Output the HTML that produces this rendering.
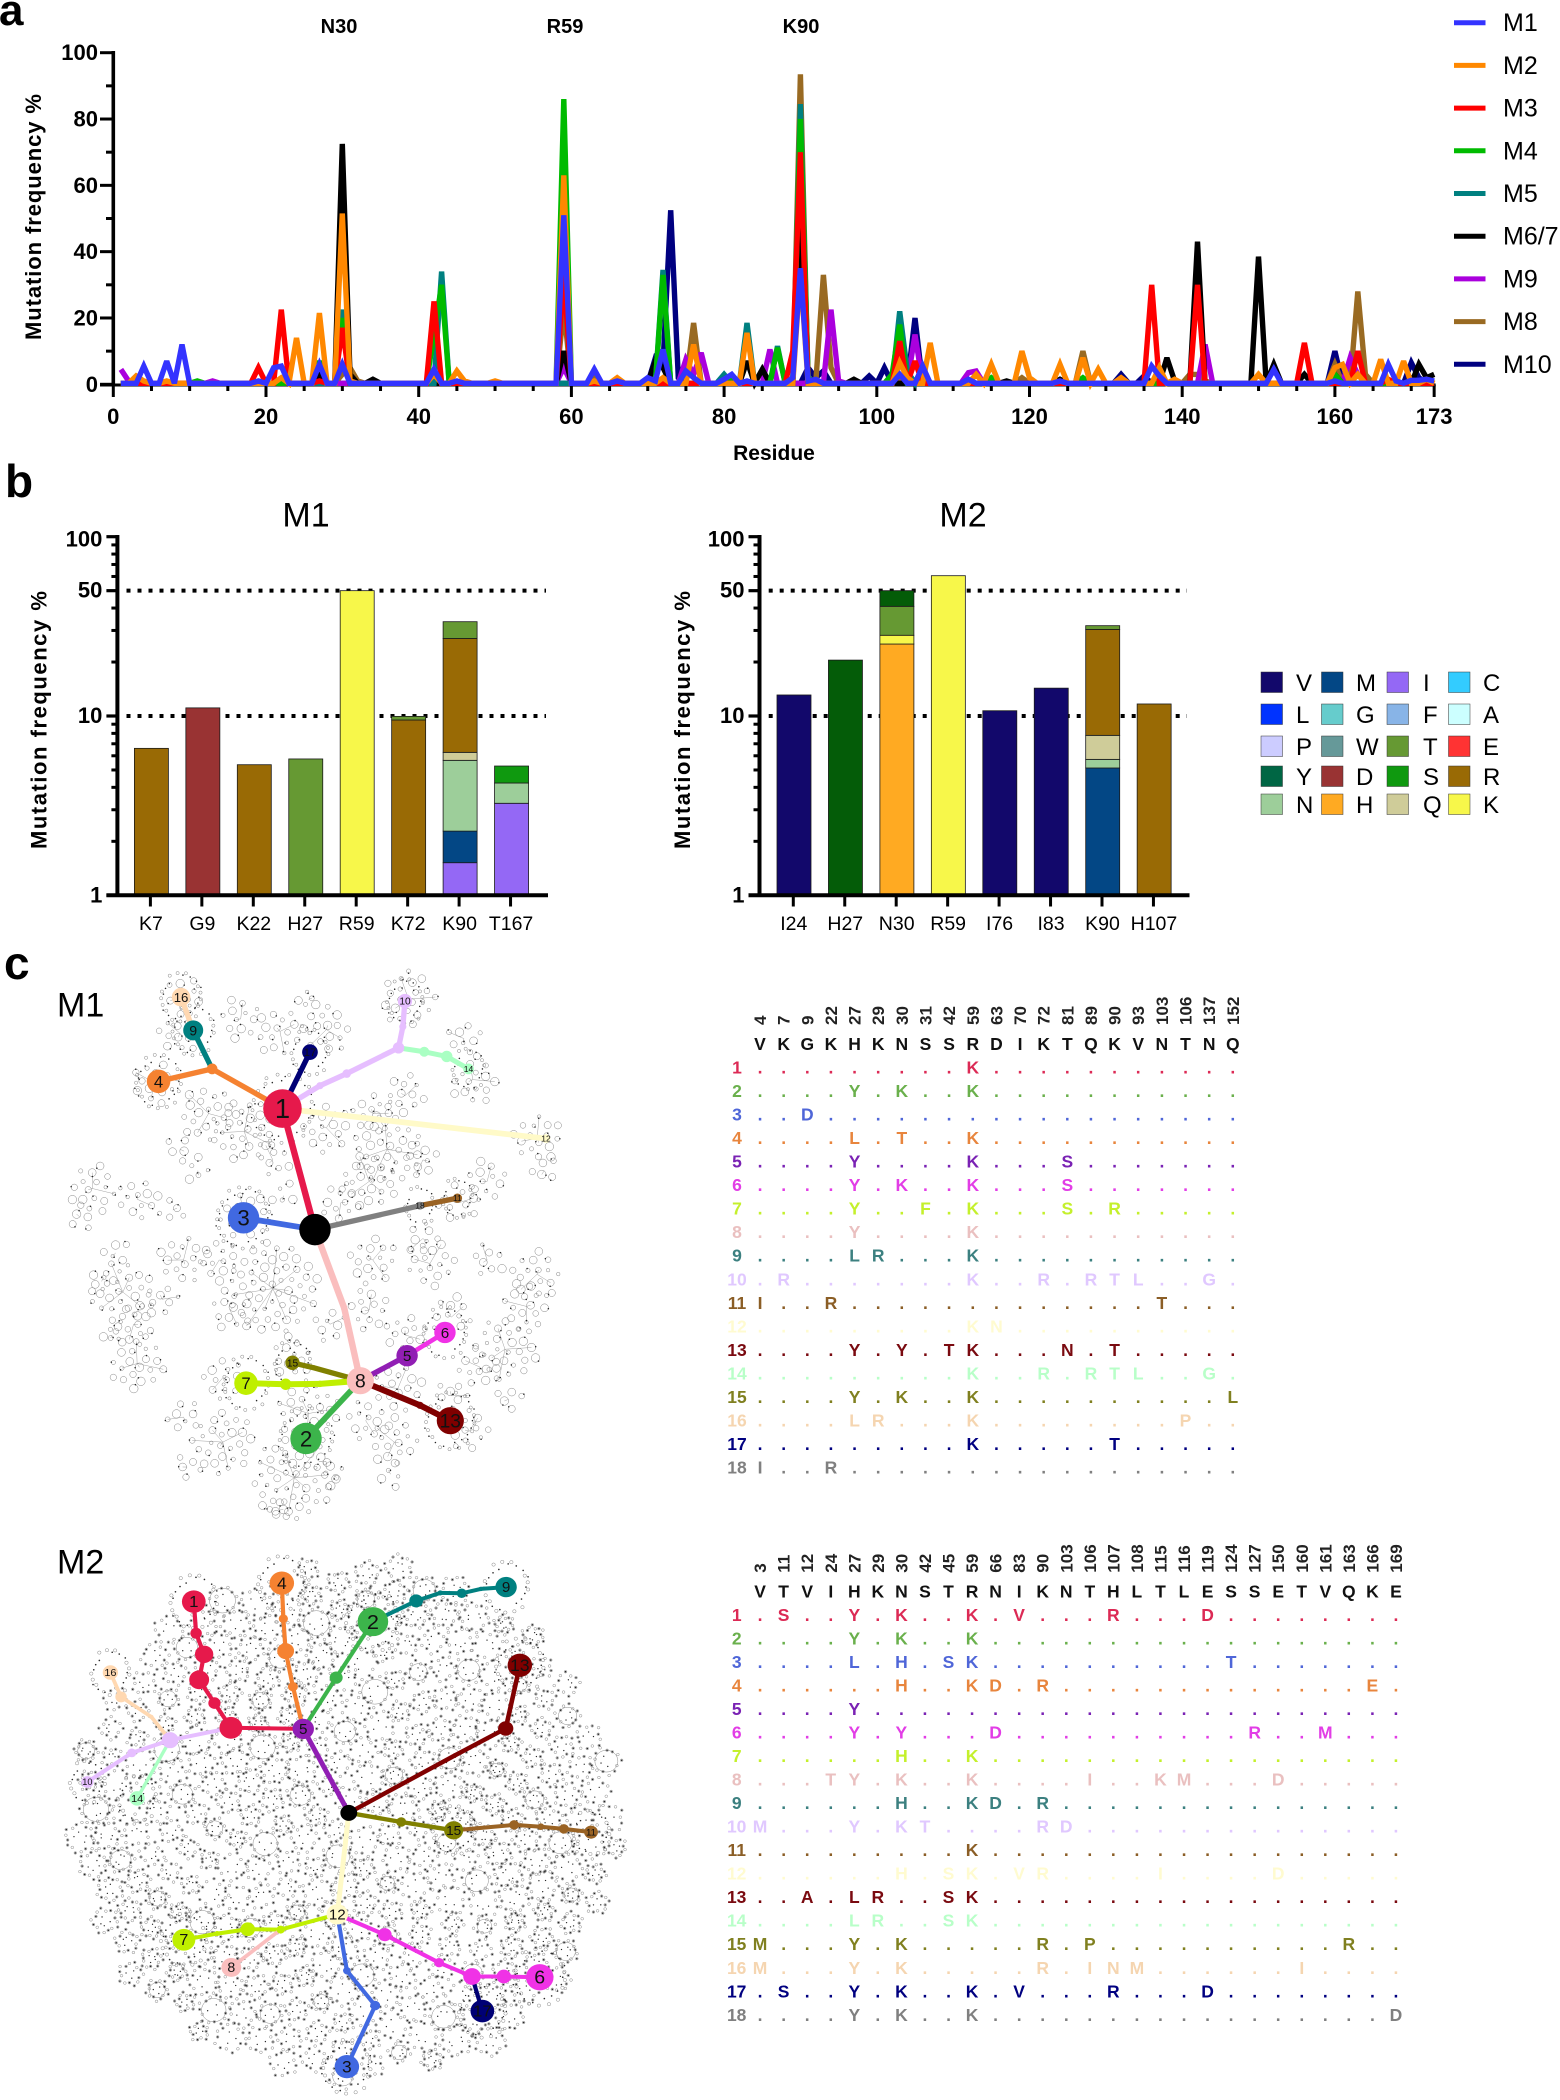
<!DOCTYPE html>
<html lang="en">
<head>
<meta charset="utf-8">
<title>Mutation frequency figure</title>
<style>
html,body{margin:0;padding:0;background:#fff}
svg{display:block}
text{font-family:"Liberation Sans",Arial,sans-serif}
</style>
</head>
<body>
<svg id="fig" xmlns="http://www.w3.org/2000/svg" width="1560" height="2100" viewBox="0 0 1560 2100">
<rect width="1560" height="2100" fill="#fff"/>
<text x="-1" y="25" font-size="44" font-weight="bold">a</text>
<text x="5" y="497" font-size="46" font-weight="bold">b</text>
<text x="4" y="979" font-size="46" font-weight="bold">c</text>
<text x="339" y="33" font-size="20" font-weight="bold" text-anchor="middle">N30</text>
<text x="565" y="33" font-size="20" font-weight="bold" text-anchor="middle">R59</text>
<text x="801" y="33" font-size="20" font-weight="bold" text-anchor="middle">K90</text>
<text transform="translate(41,217) rotate(-90)" font-size="22" font-weight="bold" text-anchor="middle" textLength="246">Mutation frequency %</text>
<text x="774" y="460" font-size="21" font-weight="bold" text-anchor="middle">Residue</text>
<text x="306" y="526.5" font-size="34" text-anchor="middle">M1</text>
<text x="963" y="526.5" font-size="34" text-anchor="middle">M2</text>
<text transform="translate(46.5,720) rotate(-90)" font-size="22" font-weight="bold" text-anchor="middle" textLength="258">Mutation frequency %</text>
<text transform="translate(690,720) rotate(-90)" font-size="22" font-weight="bold" text-anchor="middle" textLength="258">Mutation frequency %</text>
<text x="57" y="1016.5" font-size="34">M1</text>
<text x="57" y="1573.5" font-size="34">M2</text>
<g id="lineChart"></g>
<g id="barM1"></g>
<g id="barM2"></g>
<g id="aaLegend"></g>
<g id="netM1" transform="translate(30,960) scale(0.3571)"></g>
<g id="netM2" transform="translate(30,1530) scale(0.3827,0.3636)"></g>
<g id="tableM1"></g>
<g id="tableM2"></g>
</svg>
<script>
/* ---------- panel a data: [residue, frequency %] ---------- */
const baselineFrequency = 0.3;
const lineXTicks = [0,20,40,60,80,100,120,140,160,173];
const lineXMinorTicks = [5,10,15,25,30,35,45,50,55,65,70,75,85,90,95,105,110,115,125,130,135,145,150,155,165,170];
const lineYTicks = [0,20,40,60,80,100];
const lineYMinorTicks = [10,30,50,70,90];
const seriesNames = ["M10","M8","M9","M6/7","M5","M4","M3","M2","M1"];
const seriesColors = ["#000080","#996a22","#aa00dd","#000000","#008080","#00bb00","#ff0000","#ff8800","#3333ff"];
const legendOrder = ["M1","M2","M3","M4","M5","M6/7","M9","M8","M10"];
const seriesM10 = [[71,8],[72,6],[73,52.5],[74,2],[91,5],[92,2],[93,4],[99,2.5],[101,5],[105,20],[132,3],[135,2.5],[160,10],[170,6.5],[171,2]];
const seriesM8 = [[30,3],[31,5],[32,1],[59,23],[63,2],[76,18.5],[90,93.5],[93,33],[94,5],[103,2],[119,2],[127,10],[141,3],[142,3],[143,1],[160,6],[163,28],[164,3]];
const seriesM9 = [[1,4.5],[2,1],[13,1],[59,5],[75,7.5],[76,3],[77,9.5],[86,10.5],[94,22.5],[95,1],[105,15],[112,3.5],[113,4],[143,12],[162,8],[163,3]];
const seriesM67 = [[27,3],[30,72.5],[31,3],[34,1.5],[59,10],[71,7],[72,5],[83,7],[85,4.5],[90,50],[97,1.5],[117,1],[124,1.5],[127,1.5],[138,8],[139,1],[142,43],[150,38.5],[152,6],[156,3],[160,3],[171,6],[172,2],[173,3]];
const seriesM5 = [[30,22.5],[43,34],[72,34.5],[80,3],[83,18.5],[87,11.5],[90,84.5],[91,2],[103,22],[104,4],[106,5]];
const seriesM4 = [[11,1],[27,7],[30,20],[42,15],[43,30],[59,86],[72,33],[81,2.5],[87,11],[90,80],[91,2],[102,3],[103,18],[106,5],[115,2],[127,2],[160,3]];
const seriesM3 = [[19,5],[22,22.5],[27,1],[30,17],[42,25],[59,33],[89,10],[90,70],[103,13],[105,7],[136,30],[142,30],[156,12.5],[163,10],[167,1.5]];
const seriesM2 = [[3,2.5],[4,1],[7,1],[22,2],[24,14],[27,21.5],[30,51.5],[31,1],[42,3],[45,4],[46,1],[50,1],[59,63],[63,1],[66,2],[72,2],[76,12],[83,15.5],[90,34],[103,6.5],[104,2],[107,12.5],[113,3],[115,6],[119,10],[120,2],[124,6],[127,8],[129,4.5],[132,2],[137,5],[139,1.5],[150,3],[160,5],[161,6],[163,3],[166,7.5],[169,7],[172,1.5]];
const seriesM1 = [[4,5.5],[7,7],[9,12],[19,1],[21,5],[22,5.5],[27,6],[30,6],[42,4.5],[45,1],[59,51],[63,4.5],[66,1],[70,2],[71,1],[72,10.5],[75,4],[76,2],[80,1.5],[81,3],[83,1],[89,2],[90,35],[91,1],[92,1.5],[103,3],[106,5.5],[112,1.5],[124,1],[136,5.5],[137,2.5],[152,4.5],[160,1],[167,6],[168,1],[170,1.2],[171,1.2],[172,1.5],[173,1]];
const seriesData = [seriesM10,seriesM8,seriesM9,seriesM67,seriesM5,seriesM4,seriesM3,seriesM2,seriesM1];

/* ---------- panel b data ---------- */
const m1Categories = ["K7","G9","K22","H27","R59","K72","K90","T167"];
const m1Residues = [["R"],["D"],["R"],["T"],["K"],["R","T"],["I","M","N","Q","R","T"],["I","N","S"]];
const m1Values = [[6.6],[11.1],[5.35],[5.76],[50],[9.5,0.45],[1.52,0.76,3.38,0.61,20.8,6.5],[3.26,0.97,1.03]];
const m2Categories = ["I24","H27","N30","R59","I76","I83","K90","H107"];
const m2Residues = [["V"],["y"],["H","K","T","y"],["K"],["V"],["V"],["M","N","Q","R","T"],["R"]];
const m2Values = [[13.1],[20.5],[25.2,3,12.7,9.1],[60.6],[10.7],[14.3],[5.13,0.6,2.07,22.6,1.5],[11.67]];
const logMajorTicks = [1,10,50,100];
const logMinorTicks = [2,3,4,5,6,7,8,9,20,30,40,60,70,80,90];
const referenceLines = [10,50];
const residueColors = {V:"#12086b",M:"#034785",I:"#9468f5",C:"#33ccff",L:"#0033ff",G:"#66cccc",F:"#88b4e7",A:"#ccffff",P:"#ccccff",W:"#669999",T:"#669933",E:"#ff3333",Y:"#006644",y:"#045c08",D:"#993333",S:"#0f990f",R:"#996a05",N:"#9dce9a",H:"#ffaa22",Q:"#cfcc99",K:"#f7f74a"};
const legendRows = [["V","M","I","C"],["L","G","F","A"],["P","W","T","E"],["Y","D","S","R"],["N","H","Q","K"]];

/* ---------- panel c palette and tables ---------- */
const nodeColors = {1:"#e6194b",2:"#3cb44b",3:"#4169e1",4:"#f58231",5:"#911eb4",6:"#f032e6",7:"#bfef00",8:"#fabebe",9:"#008080",10:"#e6beff",11:"#9a6324",12:"#fffac8",13:"#800000",14:"#aaffc3",15:"#808000",16:"#ffd8b1",17:"#000075",18:"#808080",0:"#000000"};
const tableColors = ["#dc2a55","#6ab04c","#4f66d8","#e8853d","#7a22b4","#e23de6","#c4f02c","#eac0c0","#3c8080","#e0c8ff","#8b5e26","#fffbd0","#7a0a10","#b8ffc8","#808020","#f5d5b0","#000080","#808080"];
const m1TablePositions = ["4","7","9","22","27","29","30","31","42","59","63","70","72","81","89","90","93","103","106","137","152"];
const m1TableWildtype = "VKGKHKNSSRDIKTQKVNTNQ";
const m1TableRows = [
".........K...........",
"....Y.K..K...........",
"..D..................",
"....L.T..K...........",
"....Y....K...S.......",
"....Y.K..K...S.......",
"....Y..F.K...S.R.....",
"....Y....K...........",
"....LR...K...........",
".R.......K..R.RTL..G.",
"I..R.............T...",
".........KN..........",
"....Y.Y.TK...N.T.....",
".........K..R.RTL..G.",
"....Y.K..K..........L",
"....LR...K........P..",
".........K.....T.....",
"I..R................."];
const m2TablePositions = ["3","11","12","24","27","29","30","42","45","59","66","83","90","103","106","107","108","115","116","119","124","127","150","160","161","163","166","169"];
const m2TableWildtype = "VTVIHKNSTRNIKNTHLTLESSETVQKE";
const m2TableRows = [
".S..Y.K..K.V...R...D........",
"....Y.K..K..................",
"....L.H.SK..........T.......",
"......H..KD.R.............E.",
"....Y.......................",
"....Y.Y...D..........R..M...",
"......H..K..................",
"...TY.K..K....I..KM...D.....",
"......H..KD.R...............",
"M...Y.KT....RD..............",
".........K..................",
"......H.SK.VR....I....D.....",
"..A.LR..SK..................",
"....LR..SK..................",
"M...Y.K.....R.P..........R..",
"M...Y.K.....R.INM......I....",
".S..Y.K..K.V...R...D........",
"....Y.K..K.................D"];

/* network layouts: [id, x, y, radius, label, parent node id, edge width, colour key] */
const m1Nodes = [
["root",798,755,44,"",null,0,0],
["a1",707,416,54,"1","root",18,1],
["a3",598,722,44,"3","root",16,3],
["g1",1092,688,11,"18","root",15,18],
["a11",1197,667,13,"11","g1",15,11],
["p1",880,975,9,"","root",18,8],
["a8",925,1178,38,"8","p1",18,8],
["a2",773,1340,44,"2","a8",16,2],
["m1",1092,1247,10,"","a8",17,13],
["a13",1177,1290,38,"13","m1",17,13],
["a5",1056,1108,30,"5","a8",15,5],
["a6",1162,1043,30,"6","a5",13,6],
["o1",795,1142,7,"","a8",15,15],
["a15",735,1128,20,"15","o1",15,15],
["l1",812,1187,9,"","a8",17,7],
["l2",716,1188,16,"","l1",17,7],
["a7",605,1185,33,"7","l2",17,7],
["q1",510,305,15,"","a1",15,4],
["a4",360,340,33,"4","q1",15,4],
["a9",457,197,28,"9","q1",15,9],
["a16",423,104,26,"16","a9",15,16],
["a17",784,258,22,"17","a1",15,17],
["v1",812,352,10,"","a1",15,10],
["v2",887,318,12,"","v1",15,10],
["v3",1032,246,16,"","v2",15,10],
["v4",1044,187,10,"","v3",15,10],
["a10",1050,115,20,"10","v4",15,10],
["n1",1104,257,14,"","v3",14,14],
["n2",1167,270,16,"","n1",14,14],
["a14",1228,305,15,"14","n2",14,14],
["a12",1445,500,12,"12","a1",16,12]];
const m2Nodes = [
["root",833,778,22,"",null,0,0],
["a5",714,547,28,"5","root",13,5],
["r0",525,544,30,"","a5",11,1],
["r1",482,476,16,"","r0",11,1],
["r2",442,412,26,"","r1",11,1],
["r3",455,342,24,"","r2",11,1],
["r4",434,284,15,"","r3",11,1],
["a1",428,197,31,"1","r4",11,1],
["v0",366,578,22,"","r0",11,10],
["v1",266,613,12,"","v0",11,10],
["a10",150,693,16,"10","v1",11,10],
["a14",280,738,20,"14","v0",9,14],
["u1",317,514,6,"","v0",10,16],
["u2",238,459,15,"","u1",10,16],
["a16",210,392,20,"16","u2",10,16],
["o1",687,431,13,"","a5",11,4],
["o2",668,333,22,"","o1",11,4],
["o3",662,244,12,"","o2",11,4],
["a4",658,146,32,"4","o3",11,4],
["g1",800,406,17,"","a5",11,2],
["a2",896,252,40,"2","g1",11,2],
["t1",1009,195,18,"","a2",11,9],
["t2",1072,173,7,"","t1",11,9],
["t3",1128,174,13,"","t2",11,9],
["t4",1178,162,6,"","t3",11,9],
["a9",1244,157,28,"9","t4",11,9],
["x1",1110,620,6,"","root",12,13],
["x2",1243,546,20,"","x1",12,13],
["a13",1280,372,32,"13","x2",12,13],
["k1",970,803,13,"","root",12,15],
["a15",1107,826,25,"15","k1",12,15],
["b1",1265,811,13,"","a15",11,11],
["b2",1335,816,9,"","b1",11,11],
["b3",1395,822,13,"","b2",11,11],
["a11",1466,831,18,"11","b3",11,11],
["a12",803,1057,28,"12","root",13,12],
["l1",655,1099,11,"","a12",11,7],
["l2",569,1098,19,"","l1",11,7],
["l3",489,1110,7,"","l2",11,7],
["a7",402,1127,30,"7","l3",11,7],
["a8",526,1203,26,"8","l1",10,8],
["e1",927,1113,18,"","a12",11,6],
["e2",1069,1190,13,"","e1",11,6],
["e3",1155,1228,23,"","e2",11,6],
["e4",1238,1228,19,"","e3",11,6],
["a6",1332,1230,36,"6","e4",11,6],
["a17",1182,1323,31,"17","e3",11,17],
["c1",828,1212,10,"","a12",11,3],
["c2",902,1308,13,"","c1",11,3],
["a3",828,1476,32,"3","c2",11,3]];
/* background sequence clusters seen in the M1 network: [x, y, radius] */
const m1Clusters = [[350,345,65],[435,100,55],[420,205,60],[590,165,60],[700,200,70],[830,195,70],[780,110,30],[1060,110,80],[1215,220,50],[1240,335,70],[1050,380,60],[500,430,80],[600,480,90],[420,530,40],[470,590,40],[680,560,50],[830,470,70],[960,430,60],[1000,530,100],[1100,560,50],[1420,500,70],[1440,590,40],[1280,620,60],[1200,680,60],[950,620,80],[870,680,60],[600,720,70],[710,660,40],[175,640,70],[140,720,40],[300,670,60],[400,700,40],[1100,780,50],[1120,850,70],[1280,840,50],[960,840,70],[680,920,130],[560,980,60],[530,840,60],[430,840,70],[240,820,40],[260,930,90],[370,950,50],[200,900,40],[290,1020,60],[300,1130,80],[230,1050,30],[950,980,60],[840,1020,50],[1420,880,70],[1390,970,70],[1330,1090,90],[1260,1140,60],[1340,1230,40],[1180,1000,60],[1050,1050,60],[730,1110,60],[540,1170,60],[1030,1200,70],[780,1270,90],[1230,1320,60],[1180,1220,50],[940,1290,60],[1020,1350,70],[430,1280,50],[540,1350,90],[440,1420,40],[1010,1440,40],[740,1450,120],[700,1540,30],[850,1440,40]];

/* ---------- helpers ---------- */
const NS = "http://www.w3.org/2000/svg";
function mk(tag, attrs, parent, txt){
  const e = document.createElementNS(NS, tag);
  for (const k in attrs) e.setAttribute(k, attrs[k]);
  if (txt !== undefined) e.textContent = txt;
  parent.appendChild(e);
  return e;
}

/* ---------- panel a ---------- */
const lineX = r => 113.3 + 7.635 * r;
const lineY = v => 384.3 - 3.316 * v;
function seriesValues(pairs){
  const vals = [];
  for (let r = 1; r <= 173; r++) vals.push(baselineFrequency);
  pairs.forEach(p => { vals[p[0]-1] = p[1]; });
  return vals;
}
const lineGroup = document.getElementById("lineChart");
const yAxisA = mk("line", {x1: 113.3, x2: 113.3, y1: 51, y2: 386, stroke: "#000", "stroke-width": 3.6}, lineGroup);


const xAxisA = mk("line", {x1: 100, x2: lineX(173) + 1.5, y1: 385, y2: 385, stroke: "#000", "stroke-width": 3}, lineGroup);


lineYTicks.forEach(v => {
  const t = mk("line", {x1: 100, x2: 113, y1: lineY(v), y2: lineY(v), stroke: "#000", "stroke-width": 3}, lineGroup);
  
  
  const l = mk("text", {x: 98, y: lineY(v) + 7.5, "font-size": 22, "font-weight": "bold", "text-anchor": "end"}, lineGroup, v);
  
  
});
lineYMinorTicks.forEach(v => {
  const t = mk("line", {x1: 106, x2: 113, y1: lineY(v), y2: lineY(v), stroke: "#000", "stroke-width": 3}, lineGroup);
  
  
});
lineXTicks.forEach(r => {
  const t = mk("line", {x1: lineX(r), x2: lineX(r), y1: 385, y2: 397, stroke: "#000", "stroke-width": 3}, lineGroup);
  
  
  const l = mk("text", {x: lineX(r), y: 424, "font-size": 22, "font-weight": "bold", "text-anchor": "middle"}, lineGroup, r);
  
  
});
lineXMinorTicks.forEach(r => {
  const t = mk("line", {x1: lineX(r), x2: lineX(r), y1: 385, y2: 391, stroke: "#000", "stroke-width": 3}, lineGroup);
  
  
});
seriesData.forEach((pairs, i) => {
  const vals = seriesValues(pairs);
  const pts = vals.map((v, k) => lineX(k+1).toFixed(1) + "," + lineY(v).toFixed(1)).join(" ");
  const el = mk("polyline", {points: pts, fill: "none", stroke: seriesColors[i], "stroke-width": 5.4, "stroke-linejoin": "miter", "stroke-miterlimit": 3}, lineGroup);
  
  
});
legendOrder.forEach((name, i) => {
  const y = 22.7 + 42.7 * i;
  const color = seriesColors[seriesNames.indexOf(name)];
  const sw = mk("line", {x1: 1454, x2: 1485.5, y1: y, y2: y, stroke: color, "stroke-width": 5}, lineGroup);
  
  
  const lb = mk("text", {x: 1503, y: y + 8.5, "font-size": 25}, lineGroup, name);
  
  
});

/* ---------- panel b ---------- */
const logY = v => 895.3 - 179.3 * Math.log10(v);
function drawBars(groupId, categories, residues, values, opt){
  const g = document.getElementById(groupId);
  referenceLines.forEach(v => {
    const d = mk("line", {x1: opt.dotFrom, x2: opt.dotTo, y1: logY(v), y2: logY(v), stroke: "#000", "stroke-width": 4, "stroke-dasharray": "4 7"}, g);
    
    
  });
  categories.forEach((cat, i) => {
    const cx = opt.barStart + 51.45 * i;
    let sum = 0;
    residues[i].forEach((res, k) => {
      const y0 = logY(Math.max(1, sum));
      sum += values[i][k];
      const y1 = logY(sum);
      const b = mk("rect", {x: cx - 17, y: y1, width: 34, height: Math.max(0.5, y0 - y1), fill: residueColors[res], stroke: "#1a1a1a", "stroke-width": 0.8}, g);
      
      
    });
    const tx = opt.tickStart + 51.45 * i;
    const t = mk("line", {x1: tx, x2: tx, y1: 895, y2: 906.5, stroke: "#000", "stroke-width": 3}, g);
    
    
    const l = mk("text", {x: tx + 0.5, y: 930, "font-size": 19.5, "text-anchor": "middle"}, g, cat);
    
    
  });
  const ya = mk("line", {x1: opt.axisX, x2: opt.axisX, y1: 535, y2: 897, stroke: "#000", "stroke-width": 4}, g);
  
  
  const xa = mk("line", {x1: opt.axisX - 11, x2: opt.axisEnd, y1: 895.3, y2: 895.3, stroke: "#000", "stroke-width": 4}, g);
  
  
  logMajorTicks.forEach(v => {
    const t = mk("line", {x1: opt.axisX - 11, x2: opt.axisX, y1: logY(v), y2: logY(v), stroke: "#000", "stroke-width": 3.2}, g);
    
    
    const l = mk("text", {x: opt.axisX - 15, y: logY(v) + (v === 100 ? 10 : 7), "font-size": 22, "font-weight": "bold", "text-anchor": "end"}, g, v);
    
    
  });
  logMinorTicks.forEach(v => {
    const t = mk("line", {x1: opt.axisX - 6, x2: opt.axisX, y1: logY(v), y2: logY(v), stroke: "#000", "stroke-width": 3}, g);
    
    
  });
}
drawBars("barM1", m1Categories, m1Residues, m1Values, {dotFrom: 126.5, dotTo: 546, barStart: 151.4, tickStart: 150.4, axisX: 117.4, axisEnd: 548});
drawBars("barM2", m2Categories, m2Residues, m2Values, {dotFrom: 768.7, dotTo: 1187, barStart: 794, tickStart: 793.3, axisX: 759.5, axisEnd: 1189.5});

const aaGroup = document.getElementById("aaLegend");
const aaSwatchX = [1261, 1321.5, 1387, 1448.5];
const aaLabelX = [1296, 1356, 1423, 1483];
const aaRowY = [672, 704, 736, 766, 794];
legendRows.forEach((row, r) => {
  row.forEach((res, c) => {
    const s = mk("rect", {x: aaSwatchX[c], y: aaRowY[r], width: 21.5, height: 20.5, fill: residueColors[res], stroke: "#333", "stroke-width": 0.5}, aaGroup);
    
    
    const t = mk("text", {x: aaLabelX[c], y: aaRowY[r] + 19, "font-size": 24}, aaGroup, res);
    
    
  });
});

/* ---------- panel c: networks ---------- */
function ring(cx, cy, r){
  return "M" + (cx - r).toFixed(1) + " " + cy.toFixed(1) + "a" + r + " " + r + " 0 1 0 " + (2*r) + " 0a" + r + " " + r + " 0 1 0 " + (-2*r) + " 0";
}
function drawTexture(g, branches, rings, dots, sw){
  const l = mk("path", {d: branches, fill: "none", stroke: "#9a9a9a", "stroke-width": sw}, g);
  
  
  const a = mk("path", {d: rings, fill: "none", stroke: "#7a7a7a", "stroke-width": sw}, g);
  
  
  const b = mk("path", {d: dots, fill: "#2a2a2a", stroke: "none"}, g);
  
  
}
function addHalo(nodes, out){
  nodes.forEach(n => {
    if (!n[4]) return;
    if (n[0] === "a8" || n[0] === "a5" || n[0] === "a12") return;
    const R = n[3] + 24;
    const k = Math.round(R * 0.55);
    for (let j = 0; j < k; j++) {
      const b = j * 2.399;
      const rr = R + (j % 4) * 6;
      const px = n[1] + rr * Math.cos(b), py = n[2] + rr * Math.sin(b);
      if (j % 2 === 0) out.dots += ring(px, py, 2.2);
      else out.rings += ring(px, py, 4.5);
    }
  });
}
function drawNetwork(g, nodes){
  const byId = {};
  nodes.forEach(n => { byId[n[0]] = n; });
  nodes.forEach(n => {
    if (n[5] === null) return;
    const p = byId[n[5]];
    const e = mk("line", {x1: p[1], y1: p[2], x2: n[1], y2: n[2], stroke: nodeColors[n[7]], "stroke-width": n[6]}, g);
    
    
  });
  nodes.forEach(n => {
    const c = mk("circle", {cx: n[1], cy: n[2], r: n[3], fill: nodeColors[n[7]]}, g);
    
    
    if (n[4]) {
      const fs = Math.max(24, n[3] * 1.42);
      const t = mk("text", {x: n[1], y: n[2] + fs * 0.35, "font-size": fs, "text-anchor": "middle", fill: "#111"}, g, n[4]);
      
      
    }
  });
}
/* M1 texture */
(function(){
  const out = {rings: "", dots: ""};
  let branches = "";
  m1Clusters.forEach((c, ci) => {
    const n = Math.max(5, Math.round(c[2] * c[2] / 300));
    for (let i = 0; i < n; i++) {
      const ang = i * 2.399 + ci;
      const d = c[2] * Math.sqrt((i + 0.5) / n);
      const px = c[0] + d * Math.cos(ang), py = c[1] + d * Math.sin(ang);
      const r = 5 + ((i * 7 + ci * 3) % 8);
      out.rings += ring(px, py, r);
      if (i % 6 === 0) branches += "M" + c[0] + " " + c[1] + "L" + px.toFixed(1) + " " + py.toFixed(1);
      if (i % 2 === 0) out.dots += ring(px + r * Math.cos(ang * 3), py + r * Math.sin(ang * 3), 2.2);
    }
  });
  addHalo(m1Nodes, out);
  drawTexture(document.getElementById("netM1"), branches, out.rings, out.dots, 1.3);
})();
drawNetwork(document.getElementById("netM1"), m1Nodes);
/* M2 texture */
(function(){
  const out = {rings: "", dots: ""};
  let branches = "";
  const count = 300;
  for (let i = 1; i <= count; i++) {
    const a = i * 2.399;
    const d = 41 * Math.sqrt(i);
    const cx = 830 + d * Math.cos(a), cy = 800 + d * Math.sin(a);
    const R = 18 + (i * 5 % 17);
    const k = 12 + (i % 7);
    if (i % 6 === 0) out.rings += ring(cx, cy, R);
    for (let j = 0; j < k; j++) {
      const b = j * 6.2832 / k + i;
      const rr = R + (j % 3) * 5;
      const px = cx + rr * Math.cos(b), py = cy + rr * Math.sin(b);
      out.rings += ring(px, py, 3.6);
      if (j % 2 === 0) out.dots += ring(px, py, 2.2);
      if (j % 5 === 0) out.dots += ring(cx + (R * 0.5) * Math.cos(b * 2), cy + (R * 0.5) * Math.sin(b * 2), 1.8);
    }
  }
  addHalo(m2Nodes, out);
  drawTexture(document.getElementById("netM2"), branches, out.rings, out.dots, 1.2);
})();
drawNetwork(document.getElementById("netM2"), m2Nodes);

/* ---------- panel c: tables ---------- */
function drawTable(groupId, positions, wildtype, rows, o){
  const g = document.getElementById(groupId);
  positions.forEach((pos, c) => {
    const x = o.x0 + o.dx * c;
    const t = mk("text", {transform: "translate(" + (x + 6) + "," + o.numY + ") rotate(-90)", "font-size": 17, "font-weight": "bold", fill: "#222"}, g, pos);
    
    
    const w = mk("text", {x: x, y: o.wtY + 6.5, "font-size": 17.5, "font-weight": "bold", "text-anchor": "middle", fill: "#111"}, g, wildtype[c]);
    
    
  });
  rows.forEach((row, r) => {
    const y = o.y0 + 23.53 * r;
    const color = tableColors[r];
    const l = mk("text", {x: o.labelX, y: y + 6.5, "font-size": 17.5, "font-weight": "bold", "text-anchor": "middle", fill: color}, g, r + 1);
    
    
    for (let c = 0; c < row.length; c++) {
      const cell = mk("text", {x: o.x0 + o.dx * c, y: y + 6.5, "font-size": 17.5, "font-weight": "bold", "text-anchor": "middle", fill: color}, g, row[c]);
      
      
    }
  });
}
drawTable("tableM1", m1TablePositions, m1TableWildtype, m1TableRows, {x0: 760, dx: 23.64, y0: 1067, numY: 1025, wtY: 1043.3, labelX: 737});
drawTable("tableM2", m2TablePositions, m2TableWildtype, m2TableRows, {x0: 760.1, dx: 23.55, y0: 1614.3, numY: 1572.7, wtY: 1591, labelX: 736.7});
</script>
</body>
</html>
